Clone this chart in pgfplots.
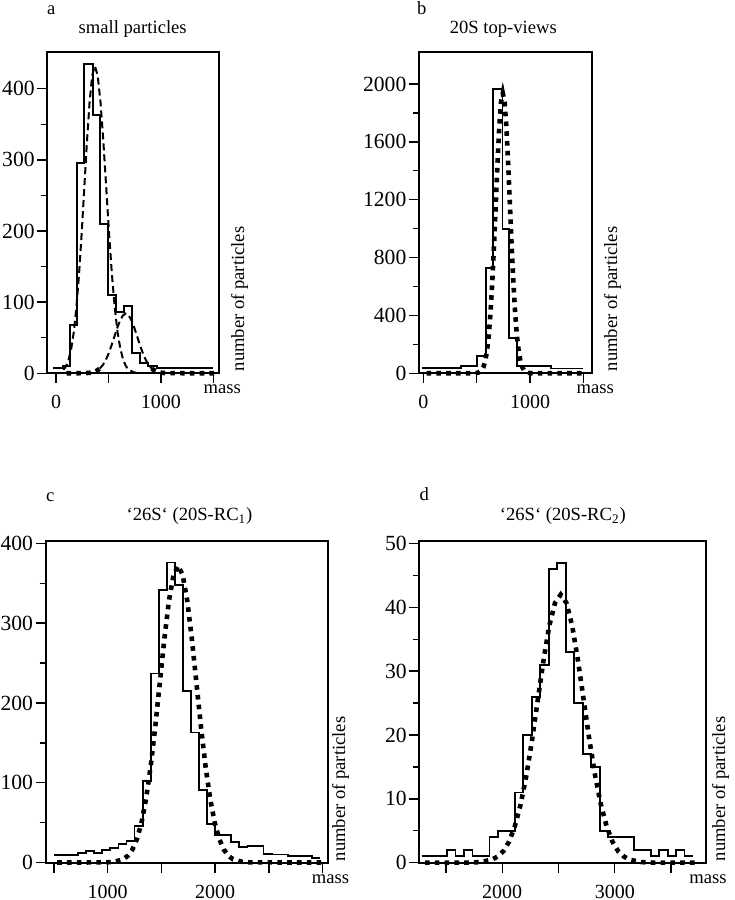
\documentclass[border=0pt]{standalone}
\usepackage{fontspec}
\setmainfont{Liberation Serif}
\usepackage{pgfplots}
\pgfplotsset{compat=1.18}
\newcommand\ff{\fontsize{9.3}{11}\selectfont}
\newcommand\fx{\fontsize{10}{12}\selectfont}
\newcommand\fy{\fontsize{10.8}{12}\selectfont}
\pgfplotsset{
  panel/.style={
    scale only axis, anchor=south west,
    axis line style={line width=0.85pt},
    tick align=outside, tick pos=left,
    major tick length=5pt, minor tick length=3pt,
    every tick/.append style={black, line width=0.7pt},
    /pgf/number format/assume math mode=true,
    /pgf/number format/1000 sep={},
    yticklabel style={font=\fy, xshift=2.2pt},
    xticklabel style={font=\fx, inner sep=0pt, yshift=-5.8pt},
    clip=false,
  },
  hist/.style={const plot mark left, black, line width=0.9pt, mark=none},
  dots/.style={black, line width=2.3pt, dash pattern=on 2.3pt off 2.6pt, mark=none},
  dashes/.style={black, line width=1pt, dash pattern=on 3.5pt off 2pt, mark=none},
}
\begin{document}
\begin{tikzpicture}
\useasboundingbox (0,0) rectangle (367pt,450pt);

% ---------------- panel a ----------------
\begin{axis}[panel, at={(23.65pt,263.35pt)}, width=86pt, height=160.8pt,
  xmin=-83, xmax=1556, ymin=0, ymax=452,
  xtick={0,500,1000,1500}, xticklabels={0,,1000,},
  ytick={0,100,200,300,400}, minor ytick={50,150,250,350}]
\addplot[hist] coordinates {(-25,8) (70,10) (130,68) (197,295) (270,435) (349,363) (419,210) (498,110) (571,86) (648,95) (725,29) (800,15) (879,10) (959,7) (1500,7)};
\addplot[dashes] coordinates {(70,4.8) (95,9.8) (120,19.0) (145,34.4) (170,58.5) (195,93.4) (220,140.3) (245,197.8) (270,262.0) (295,326.1) (320,381.2) (345,418.7) (370,432) (397,418.7) (424,381.2) (451,326.1) (478,262.0) (505,197.8) (532,140.3) (559,93.4) (586,58.5) (613,34.4) (640,19.0) (667,9.8) (694,4.8) (748,1.0) (800,0.1)};
% second component: hump dashed, baseline parts dotted
\addplot[dashes] coordinates {(417.5,6.7) (445,11.4) (472.5,18.2) (500,27.3) (527.5,38.5) (555,50.9) (582.5,63.4) (610,74.1) (637.5,81.4) (665,84) (692.5,81.4) (720,74.1) (747.5,63.4) (775,50.9) (802.5,38.5) (830,27.3) (857.5,18.2) (885,11.4) (912.5,6.7) (940,3.7)};
\addplot[dots] coordinates {(100,0) (280,0.2) (335,0.9) (362.5,1.9) (390,3.7) (417.5,6.7)};
\addplot[dots] coordinates {(912.5,6.7) (940,3.7) (967.5,1.9) (995,0.9) (1050,0.2) (1510,0)};
\end{axis}

% ---------------- panel b ----------------
\begin{axis}[panel, at={(209.5pt,263.35pt)}, width=86.65pt, height=160.8pt,
  xmin=-41, xmax=1584, ymin=0, ymax=2223,
  xtick={0,500,1000,1500}, xticklabels={0,,1000,},
  ytick={0,400,800,1200,1600,2000}, minor ytick={200,600,1000,1400,1800}]
\addplot[hist] coordinates {(-10,35) (353,48) (500,118) (587,726) (650,1963) (741,995) (806,242) (875,52) (1194,33) (1500,33)};
\addplot[dots] coordinates {(30,0) (481,0.6) (514,4.3) (547,21.5) (563.5,44.1) (580,84.9) (596.5,154.0) (613,261.8) (629.5,418.5) (646,628.3) (662.5,885.8) (679,1173.6) (695.5,1460.5) (712,1707.6) (728.5,1875.4) (745,1935) (761.5,1875.4) (778,1707.6) (794.5,1460.5) (811,1173.6) (827.5,885.8) (844,628.3) (860.5,418.5) (877,261.8) (893.5,154.0) (910,84.9) (926.5,44.1) (943,21.5) (976,4.3) (1009,0.6) (1520,0)};
\end{axis}

% ---------------- panel c ----------------
\begin{axis}[panel, at={(22.85pt,18.35pt)}, width=141pt, height=161.15pt,
  xmin=423, xmax=3047, ymin=-1, ymax=403,
  xtick={500,1000,1500,2000,2500,3000}, xticklabels={,1000,,2000,,},
  ytick={0,100,200,300,400}, minor ytick={50,150,250,350}]
\addplot[hist] coordinates {(500,9) (575,9) (650,9) (725,12) (800,14) (875,12) (950,16) (1025,18) (1100,23) (1175,27) (1250,46) (1325,102) (1400,237) (1475,342) (1550,376) (1625,348) (1700,215) (1775,163) (1850,91) (1925,48) (2000,34) (2075,34) (2150,26) (2225,19) (2300,21) (2375,21) (2450,11) (2525,10) (2600,10) (2675,8) (2750,8) (2825,8) (2900,6) (2975,6)};
\addplot[dots] coordinates {(530,0) (975,0.1) (1060,0.8) (1145,4.1) (1187.5,8.5) (1230,16.3) (1272.5,29.6) (1315,50.3) (1357.5,80.5) (1400,120.8) (1442.5,170.3) (1485,225.6) (1527.5,280.8) (1570,328.3) (1612.5,360.5) (1655,372) (1697.5,360.5) (1740,328.3) (1782.5,280.8) (1825,225.6) (1867.5,170.3) (1910,120.8) (1952.5,80.5) (1995,50.3) (2037.5,29.6) (2080,16.3) (2122.5,8.5) (2165,4.1) (2250,0.8) (2335,0.1) (2990,0)};
\end{axis}

% ---------------- panel d ----------------
\begin{axis}[panel, at={(209.65pt,18.35pt)}, width=143.35pt, height=161.15pt,
  xmin=1263, xmax=3811, ymin=-0.1, ymax=50.4,
  xtick={1500,2000,2500,3000,3500}, xticklabels={,2000,,3000,},
  ytick={0,10,20,30,40,50}, minor ytick={5,15,25,35,45}]
\addplot[hist] coordinates {(1284,1) (1510,2) (1585,1) (1661,2) (1736,1) (1887,4) (1962,5) (2113,11) (2188,20) (2264,26) (2339,31) (2414,46) (2490,47) (2565,33) (2641,25) (2716,17) (2792,15) (2867,5) (2942,4) (3168,2) (3319,1) (3394,2) (3470,1) (3545,2) (3620,1) (3696,1)};
\addplot[dots] coordinates {(1314,0) (1704,0.01) (1806,0.09) (1908,0.47) (1959,0.96) (2010,1.8) (2061,3.3) (2112,5.7) (2163,9.1) (2214,13.6) (2265,19.2) (2316,25.5) (2367,31.7) (2418,37.1) (2469,40.7) (2520,42) (2571,40.7) (2622,37.1) (2673,31.7) (2724,25.5) (2775,19.2) (2826,13.6) (2877,9.1) (2928,5.7) (2979,3.3) (3030,1.8) (3081,0.96) (3132,0.47) (3234,0.09) (3336,0.01) (3745,0)};
\end{axis}

% ---------------- texts ----------------
\begin{scope}[every node/.style={font=\ff, inner sep=0pt}]
\node[anchor=base west] at (23.3pt,442.5pt) {a};
\node[anchor=base] at (66.35pt,433.35pt) {small particles};
\node[anchor=base west] at (208.3pt,442.5pt) {b};
\node[anchor=base] at (251.65pt,433.35pt) {20S top-views};
\node[anchor=base west] at (22.85pt,199.15pt) {c};
\node[anchor=base] at (94.75pt,189.5pt) {‘26S‘ (20S-RC\textsubscript{1})};
\node[anchor=base west] at (209.65pt,199.65pt) {d};
\node[anchor=base] at (281.4pt,189.5pt) {‘26S‘ (20S-RC\textsubscript{2})};
\node[anchor=base] at (111.15pt,253.35pt) {mass};
\node[anchor=base] at (297.65pt,253.35pt) {mass};
\node[anchor=base] at (165.25pt,8.35pt) {mass};
\node[anchor=base] at (354pt,8.35pt) {mass};
\node[rotate=90, anchor=base west] at (122pt,264.15pt) {number of particles};
\node[rotate=90, anchor=base west] at (308.5pt,264.15pt) {number of particles};
\node[rotate=90, anchor=base west] at (172.5pt,19.15pt) {number of particles};
\node[rotate=90, anchor=base west] at (362.5pt,19.15pt) {number of particles};
\end{scope}
\end{tikzpicture}
\end{document}
